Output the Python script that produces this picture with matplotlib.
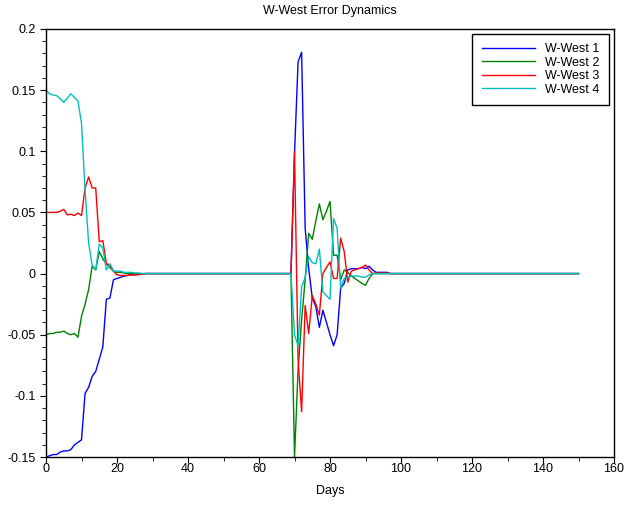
import numpy as np
import matplotlib
matplotlib.use("Agg")
import matplotlib.pyplot as plt
from matplotlib.ticker import MultipleLocator

plt.rcParams['font.family'] = ['Liberation Sans', 'DejaVu Sans']

title = "W-West Error Dynamics"
series_names = ["W-West 1", "W-West 2", "W-West 3", "W-West 4"]
series_colors = ["#0000ff", "#008000", "#ff0000", "#00bfbf"]

days = np.arange(0, 151)

# days 0..29
early_start = 0
w1_early = [-0.150, -0.149, -0.148, -0.148, -0.146, -0.145, -0.145, -0.144, -0.140, -0.138,
            -0.136, -0.098, -0.093, -0.084, -0.080, -0.070, -0.060, -0.021, -0.020, -0.005,
            -0.004, -0.003, -0.002, -0.0015, -0.001, -0.001, -0.0005, -0.0005, 0.0, 0.0]
w2_early = [-0.050, -0.049, -0.049, -0.048, -0.048, -0.047, -0.049, -0.050, -0.049, -0.052,
            -0.035, -0.025, -0.013, 0.006, 0.003, 0.018, 0.012, 0.008, 0.005, 0.002,
            0.001, 0.001, 0.0005, 0.0, 0.0, 0.0, 0.0, 0.0, 0.0, 0.0]
w3_early = [0.050, 0.050, 0.050, 0.050, 0.051, 0.0525, 0.048, 0.0485, 0.0475, 0.0495,
            0.0475, 0.070, 0.079, 0.070, 0.070, 0.026, 0.027, 0.008, 0.007, 0.002,
            -0.001, -0.0015, -0.0015, -0.0015, -0.001, -0.001, -0.001, -0.0005, 0.0, 0.0]
w4_early = [0.150, 0.147, 0.146, 0.1455, 0.143, 0.140, 0.1435, 0.147, 0.144, 0.141,
            0.123, 0.068, 0.025, 0.007, 0.003, 0.024, 0.021, 0.003, 0.008, 0.002,
            0.002, 0.002, 0.001, 0.001, 0.001, 0.0005, 0.0005, 0.0, 0.0, 0.0]

# days 69..99
late_start = 69
w1_late = [0.0, 0.098, 0.173, 0.181, 0.037, 0.004, -0.020, -0.027, -0.044, -0.030,
           -0.040, -0.050, -0.059, -0.050, -0.012, -0.008, 0.003, 0.004, 0.004, 0.004,
           0.005, 0.004, 0.006, 0.003, 0.001, 0.001, 0.001, 0.001, 0.0, 0.0, 0.0]
w2_late = [0.0, -0.150, -0.079, -0.038, -0.005, 0.033, 0.028, 0.043, 0.057, 0.044,
           0.051, 0.059, 0.015, 0.015, -0.005, 0.003, 0.001, -0.002, -0.004, -0.006,
           -0.008, -0.0095, -0.004, 0.0, 0.0, 0.0, 0.0, 0.0, 0.0, 0.0, 0.0]
w3_late = [0.0, 0.100, -0.070, -0.113, -0.026, -0.049, -0.018, -0.025, -0.034, 0.000,
           0.005, 0.0095, -0.004, -0.004, 0.029, 0.018, -0.007, 0.002, 0.003, 0.004,
           0.005, 0.007, 0.003, 0.0, 0.0005, 0.0005, 0.0005, 0.0005, 0.0, 0.0, 0.0]
w4_late = [0.0, -0.050, -0.059, -0.011, -0.003, 0.014, 0.009, 0.008, 0.020, -0.015,
           -0.018, -0.021, 0.045, 0.037, -0.012, -0.004, -0.003, -0.002, -0.002, -0.002,
           -0.003, -0.003, -0.001, 0.0, 0.0, 0.0, 0.0, 0.0, 0.0, 0.0, 0.0]

xticks = [0, 20, 40, 60, 80, 100, 120, 140, 160]
yticks = [-0.15, -0.1, -0.05, 0, 0.05, 0.1, 0.15, 0.2]
ytick_labels = ["-0.15", "-0.1", "-0.05", "0", "0.05", "0.1", "0.15", "0.2"]


def build(early, late):
    v = np.zeros(len(days))
    v[early_start:early_start + len(early)] = early
    v[late_start:late_start + len(late)] = late
    return v


series = [build(w1_early, w1_late), build(w2_early, w2_late),
          build(w3_early, w3_late), build(w4_early, w4_late)]

fig = plt.figure(figsize=(6.4, 5.15), dpi=100)
ax = fig.add_axes([0.0719, 0.1126, 0.8875, 0.8311])

for vals, name, col in zip(series, series_names, series_colors):
    ax.plot(days, vals, color=col, linewidth=1.0, label=name)

ax.set_xlim(0, 160)
ax.set_ylim(-0.15, 0.2)
ax.set_xticks(xticks)
ax.set_yticks(yticks)
ax.set_yticklabels(ytick_labels)
ax.xaxis.set_minor_locator(MultipleLocator(10))
ax.yaxis.set_minor_locator(MultipleLocator(0.01))
ax.tick_params(which='both', direction='out', top=False, right=False, labelsize=9)
ax.tick_params(which='major', length=4)
ax.tick_params(which='minor', length=3)
ax.tick_params(axis='x', which='major', pad=0.5)
for s in ax.spines.values():
    s.set_linewidth(1.0)

ax.set_title(title, fontsize=9, pad=11)
ax.set_xlabel("Days", fontsize=9, labelpad=7)

leg = ax.legend(loc='upper right', fontsize=9, handlelength=4.3, handletextpad=0.8,
                fancybox=False, framealpha=1, edgecolor='black', borderpad=0.75,
                labelspacing=0.12, borderaxespad=0.4)
leg.get_frame().set_linewidth(1.0)

plt.savefig("out.png", dpi=100)
